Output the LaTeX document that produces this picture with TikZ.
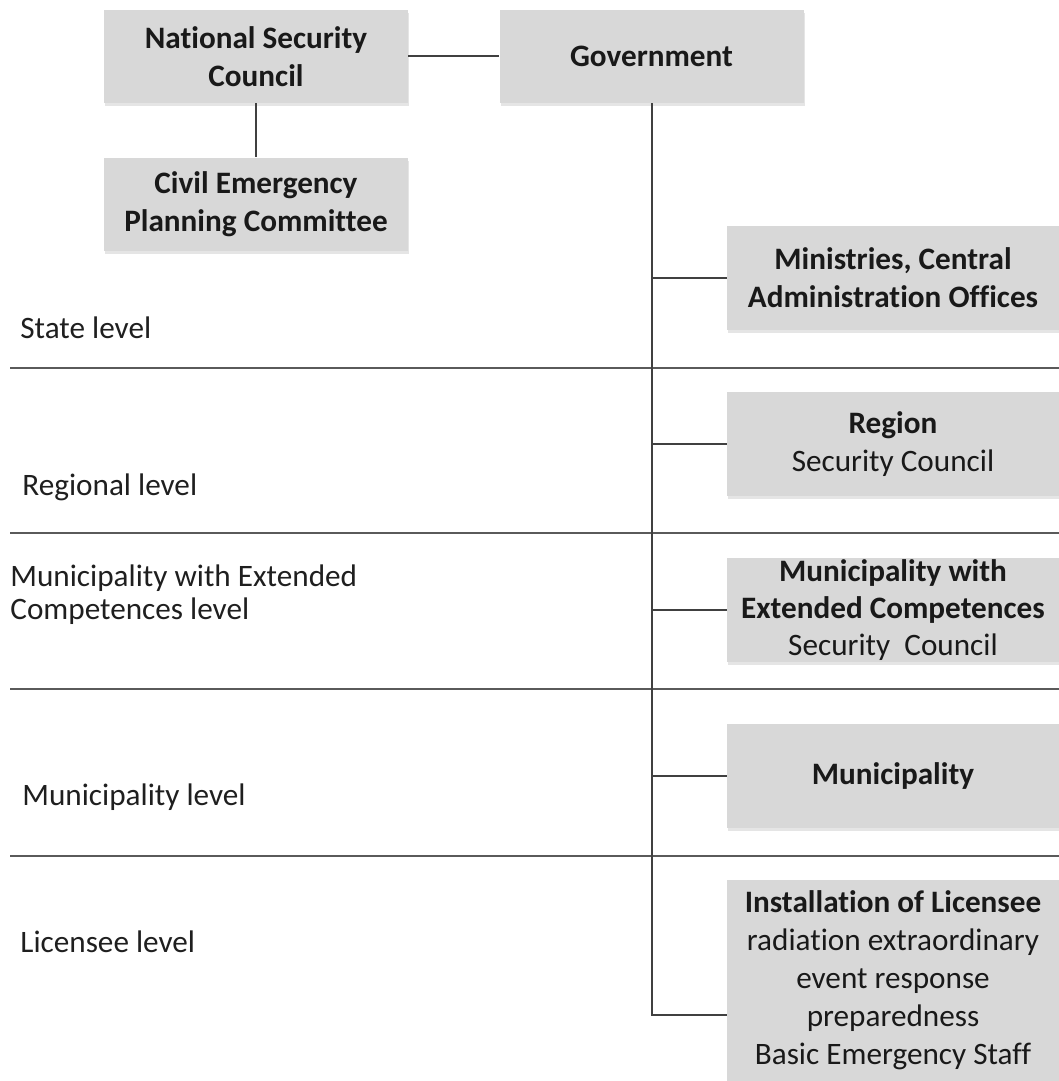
\documentclass[tikz,border=0pt]{standalone}
\usepackage{fontspec}
\setmainfont{Carlito}[Ligatures=NoCommon]
\usepackage{xcolor}
\usetikzlibrary{
  positioning,
  shadows
}
\definecolor{boxgray}{RGB}{216,216,216}
\definecolor{linegray}{RGB}{64,64,64}
\definecolor{sepgray}{RGB}{90,90,90}

\begin{document}
\begin{tikzpicture}[
    x=0.5pt, y=-0.5pt,
    font=\fontsize{15.6}{19}\selectfont,
    box/.style={
        fill=boxgray,
        align=center,
        inner sep=0pt,
        text=black!90,
        drop shadow={shadow xshift=0.6pt, shadow yshift=-1.6pt,
                     opacity=0.25, fill=black!40}
    },
    topbox/.style={box, minimum width=152pt, minimum height=46.5pt},
    levelbox/.style={box, minimum width=166pt, minimum height=52pt},
    link/.style={draw=linegray, line width=1pt},
    sep/.style={draw=sepgray, line width=1.1pt},
    level/.style={anchor=west, align=left, inner sep=0pt, text=black!88}
]
\useasboundingbox (0,0) rectangle (1059,1081);

% ----------------------------------------------------------
% SEPARATORS
% ----------------------------------------------------------

\foreach \y in {368,533,689,856}
    \draw[sep] (10,\y) -- (1059,\y);

% ----------------------------------------------------------
% NODES
% ----------------------------------------------------------

\node[topbox] (nsc) at (256,56.5) {\bfseries National Security\\\bfseries Council};
\node[topbox] (gov) at (651.5,56.5) {\bfseries Government};
\node[topbox] (cepc) at (256,204) {\bfseries Civil Emergency\\\bfseries Planning Committee};

\node[levelbox] (ministries) at (893,278) {\bfseries Ministries, Central\\\bfseries Administration Offices};
\node[levelbox] (region) at (893,444) {\bfseries Region\\Security Council};
\node[levelbox, font=\fontsize{15.6}{18.5}\selectfont] (mec) at (893,610)
    {\bfseries Municipality with\\\bfseries Extended Competences\\Security\ \ Council};
\node[levelbox] (municipality) at (893,775.5) {\bfseries Municipality};
\node[levelbox, minimum height=100.5pt] (install) at (893,980.5)
    {\bfseries Installation of Licensee\\radiation extraordinary\\event response\\preparedness\\Basic Emergency Staff};

\coordinate (instjoin) at (727,1015);

% ----------------------------------------------------------
% CONNECTORS
% ----------------------------------------------------------

\draw[link] (nsc) -- (gov);
\draw[link] (nsc) -- (cepc);

\draw[link] (gov.south) |- (instjoin);
\foreach \n in {ministries,region,mec,municipality}
    \draw[link] (gov.south |- \n.west) -- (\n.west);

% ----------------------------------------------------------
% LEVEL LABELS
% ----------------------------------------------------------

\node[level] (lstate) at (20,328) {State level};
\node[level] (lregion) at (22,487) {Regional level};
\node[level, font=\fontsize{15.6}{16.5}\selectfont] (lmec) at (10,594.5) {Municipality with Extended\\Competences level};
\node[level] (lmun) at (22,797) {Municipality level};
\node[level] (llic) at (20,942) {Licensee level};

\end{tikzpicture}
\end{document}
